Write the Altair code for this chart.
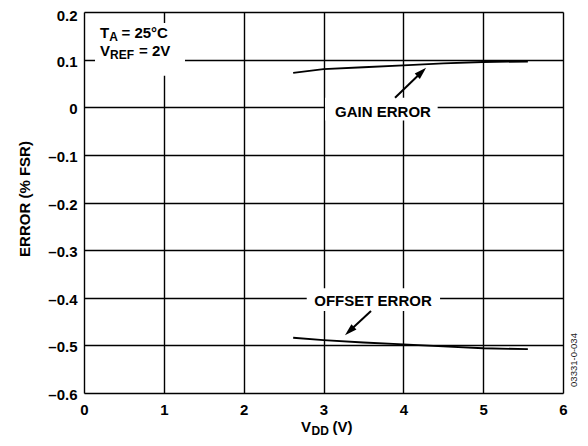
import altair as alt
import pandas as pd

FONT = "Liberation Sans"

# ---- data ----
vdd = [2.62, 3.0, 3.5, 4.0, 4.5, 5.0, 5.56]
gain_error = [0.072, 0.080, 0.084, 0.088, 0.092, 0.095, 0.096]
offset_error = [-0.484, -0.489, -0.494, -0.498, -0.502, -0.506, -0.508]

x_ticks = [0, 1, 2, 3, 4, 5, 6]
y_ticks = [-0.6, -0.5, -0.4, -0.3, -0.2, -0.1, 0.0, 0.1, 0.2]

# annotation background boxes (data coords)
box_x = [3.02, 2.79, 0.138]
box_x2 = [4.43, 4.46, 1.265]
box_y = [0.020, -0.380, 0.177]
box_y2 = [-0.028, -0.428, 0.066]

# arrows: tail -> head centre, head angle
arr_x = [3.896, 3.595]
arr_y = [0.020, -0.428]
arr_x2 = [4.23, 3.325]
arr_y2 = [0.074, -0.470]
arr_angle = [46, 227]

xs = alt.Scale(domain=[0, 6], nice=False, zero=False)
ys = alt.Scale(domain=[-0.6, 0.2], nice=False, zero=False)

rows = []
for v, g, o in zip(vdd, gain_error, offset_error):
    rows.append({"x": v, "y": g, "s": "GAIN ERROR"})
    rows.append({"x": v, "y": o, "s": "OFFSET ERROR"})
lines_df = pd.DataFrame(rows)

x_axis = alt.Axis(values=x_ticks, grid=True, gridColor="black", gridWidth=1.4,
                  ticks=False, domain=False, labelFont=FONT, labelFontWeight="bold",
                  labelFontSize=15, labelColor="black", labelPadding=9,
                  labelFlush=False, labelOverlap=False, title=None, format="d")
y_axis = alt.Axis(values=y_ticks, grid=True, gridColor="black", gridWidth=1.4,
                  ticks=False, domain=False, labelFont=FONT, labelFontWeight="bold",
                  labelFontSize=15, labelColor="black", labelPadding=7,
                  labelOffset={"condition": {"test": "datum.value > 0.15", "value": 3.5}, "value": 1.5},
                  labelOverlap=False, title=None,
                  labelExpr="abs(datum.value) < 1e-9 ? '0' : (datum.value < 0 ? '\u2013' : '') + format(abs(datum.value), '.1f')")

lines = alt.Chart(lines_df).mark_line(color="black", strokeWidth=1.8).encode(
    x=alt.X("x:Q", scale=xs, axis=x_axis),
    y=alt.Y("y:Q", scale=ys, axis=y_axis),
    detail="s:N",
)

boxes = alt.Chart(pd.DataFrame({"x": box_x, "x2": box_x2, "y": box_y, "y2": box_y2})).mark_rect(
    fill="white").encode(x="x:Q", x2="x2", y="y:Q", y2="y2")

arr_df = pd.DataFrame({"x": arr_x, "y": arr_y, "x2": arr_x2, "y2": arr_y2, "a": arr_angle})
shafts = alt.Chart(arr_df).mark_rule(color="black", strokeWidth=2).encode(
    x="x:Q", y="y:Q", x2="x2", y2="y2")
heads = alt.Chart(arr_df).mark_point(
    shape="M0,-1L0.6,1L-0.6,1Z", filled=True, color="black", opacity=1, size=150, strokeWidth=0
).encode(x=alt.X("x2:Q"), y=alt.Y("y2:Q"), angle=alt.Angle("a:Q", scale=None))


def piece(text, x, y, size=15, dx=0, dy=0, weight="bold", align="left",
          angle=0, baseline="alphabetic", px=False, color="black"):
    df = pd.DataFrame({"x": [x], "y": [y], "t": [text]})
    m = alt.Chart(df).mark_text(font=FONT, fontSize=size, fontWeight=weight,
                                align=align, baseline=baseline, dx=dx, dy=dy,
                                angle=angle, color=color)
    if px:
        return m.encode(x=alt.value(x), y=alt.value(y), text="t:N")
    return m.encode(x="x:Q", y="y:Q", text="t:N")


texts = [
    piece("GAIN ERROR", 3.745, -0.0199, align="center"),
    piece("OFFSET ERROR", 3.62, -0.4178, align="center"),
    # T_A = 25°C
    piece("T", 0.2, 0.1455),
    piece("A", 0.2, 0.1455, size=12, dx=9.2, dy=3.5),
    piece("= 25\u00b0C", 0.2, 0.1455, dx=21.5),
    # V_REF = 2V
    piece("V", 0.2, 0.1079),
    piece("REF", 0.2, 0.1079, size=12, dx=10, dy=3.5),
    piece("= 2V", 0.2, 0.1079, dx=39),
    # x title V_DD (V)
    piece("V", 217, 420, px=True),
    piece("DD", 217, 420, size=12, dx=10.5, dy=3, px=True),
    piece("(V)", 217, 420, dx=31.5, px=True),
    # y title
    piece("ERROR (% FSR)", -54, 187, angle=270, align="center", px=True),
    # figure code
    piece("03331-0-034", 490, 348, size=9.5, weight="normal", angle=270,
          align="center", baseline="middle", px=True, color="#222222"),
]

chart = alt.layer(lines, boxes, shafts, heads, *texts).properties(
    width=479, height=381,
    autosize=alt.AutoSizeParams(type="none"),
    padding={"left": 76, "top": 4, "right": 17, "bottom": 45},
).configure_view(stroke="black", strokeWidth=2.2).configure(background="white")

chart.save("out.html", embed_options={"renderer": "svg", "actions": False})
